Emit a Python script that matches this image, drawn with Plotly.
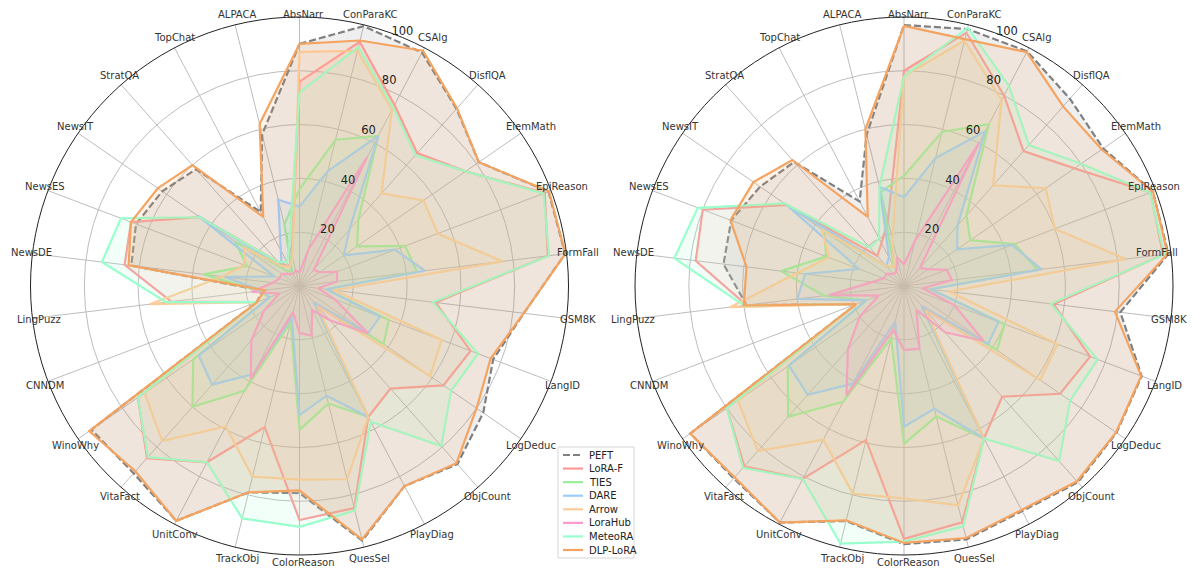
import math
import plotly.graph_objects as go

categories = ["AbsNarr", "ConParaKC", "CSAlg", "DisflQA", "ElemMath", "EpiReason", "FormFall",
              "GSM8K", "LangID", "LogDeduc", "ObjCount", "PlayDiag", "QuesSel", "ColorReason",
              "TrackObj", "UnitConv", "VitaFact", "WinoWhy", "CNNDM", "LingPuzz", "NewsDE",
              "NewsES", "NewsIT", "StratQA", "TopChat", "ALPACA"]
series_names = ["PEFT", "LoRA-F", "TIES", "DARE", "Arrow", "LoraHub", "MeteoRA", "DLP-LoRA"]
radial_ticks = [20, 40, 60, 80, 100]

# ---- left chart ----
peft_left = [90, 99.5, 98, 88, 81, 99, 99.5, 84, 77, 83, 88.5, 84, 97.5, 77, 79, 98.6, 93, 94, 17, 14, 63, 65, 62, 58, 31, 58]
lora_f_left = [76, 93.5, 76, 66, 75, 97.5, 93, 51, 68, 65, 51, 55, 85, 87, 54, 74, 85.5, 73, 17, 48, 65.5, 67, 45, 12, 8, 12]
ties_left = [36, 56, 63, 33, 26, 42, 44, 10, 35.5, 38, 8, 55, 45, 53.5, 14, 44, 60, 48, 12, 15, 36, 21, 29, 8, 6, 23.5]
dare_left = [29.5, 44, 63, 28, 20, 38, 47, 10, 32, 31, 8, 55, 42, 48, 12, 37, 49, 45.5, 12, 14, 28, 10, 46, 10, 15, 33]
arrow_left = [87, 90, 74, 46, 56, 55, 76, 13, 56.5, 59, 10, 55, 74, 72, 73, 59, 77, 70, 17, 56, 29, 22, 25, 10, 8, 11]
lorahub_left = [5, 14, 54, 8, 9, 15, 14, 7, 14, 31, 17, 10, 19, 17.5, 10, 39, 27, 16, 8, 18, 10, 8, 8, 6, 5, 6]
meteora_left = [72, 91.5, 75, 65, 75, 97, 93.5, 50, 71, 68.5, 79.5, 57, 86, 89.5, 89, 74, 85, 73, 17, 50, 74, 71, 45, 12, 10, 16]
dlp_left = [90, 94, 98.8, 88.3, 81, 99.2, 99.6, 84, 76, 80, 88, 84, 97, 76, 79, 98.6, 92, 95, 17, 13, 64, 67, 64, 60, 29, 62]

# ---- right chart ----
peft_right = [97, 98.4, 98.5, 93, 90, 99, 99, 81, 94.5, 96, 97.5, 94.5, 97, 96, 90, 99.3, 95.5, 96.5, 19, 59, 67.6, 68.7, 65, 61.6, 35.5, 58]
lora_f_right = [80, 97, 80, 67, 77, 98, 97, 56, 74, 70.5, 55, 64, 90.5, 94, 59, 81, 89.5, 80, 19, 59, 78, 80, 53, 15, 18, 25]
ties_right = [41, 59, 68, 35, 30, 44, 50, 10, 40, 42, 10, 64, 50, 58.7, 20, 48.6, 65, 52.5, 15, 30, 46, 31, 36, 10, 8, 36]
dare_right = [33, 49, 65, 30, 24, 43, 51.5, 10, 37.6, 38, 10, 64, 47, 52.3, 13.7, 41, 54, 52, 15, 40, 37, 18, 53, 10, 12, 38]
arrow_right = [78, 94, 78, 50, 64, 60, 83, 17, 61, 61.5, 12, 64, 84, 79, 79.5, 64.5, 82, 75, 19, 65, 40, 30, 37, 10, 8, 18]
lorahub_right = [8, 17.6, 60, 9, 11, 17, 18, 7, 20, 36, 23, 10, 24, 23.8, 16.8, 46, 31.5, 20, 10, 28, 12, 8, 8, 6, 6, 11]
meteora_right = [78, 98.9, 84, 70, 80, 97.8, 97.5, 55, 77, 75, 87, 64, 92, 95, 98.6, 81, 90.3, 80, 19, 60, 86, 82, 54, 19, 20, 38]
dlp_right = [96.7, 94.5, 98.2, 89.2, 89.3, 99, 98.7, 79, 94.3, 95.8, 97, 94, 96.5, 95.5, 89.7, 99.3, 95, 96.6, 19, 60, 59, 69, 68, 62.6, 29, 60]

left_values = [peft_left, lora_f_left, ties_left, dare_left, arrow_left, lorahub_left, meteora_left, dlp_left]
right_values = [peft_right, lora_f_right, ties_right, dare_right, arrow_right, lorahub_right, meteora_right, dlp_right]

colors = ["#808080", "#ff9999", "#99ee99", "#99ccff", "#ffcc99", "#ff99cc", "#99ffcc", "#f4a460"]
dashes = ["7px,3px", "solid", "solid", "solid", "solid", "solid", "solid", "solid"]


def rgba(hex_color, a):
    h = hex_color.lstrip("#")
    return "rgba(%d,%d,%d,%.3f)" % (int(h[0:2], 16), int(h[2:4], 16), int(h[4:6], 16), a)


n = len(categories)
angles = [i * 360.0 / n for i in range(n)]
angles_closed = angles + [angles[0]]

# figure geometry (figure pixels; the page shows the figure with an 8px offset)
W, H = 1198, 570
VIEW_W, VIEW_H = 1179, 562
R = 269
CY = 278
CENTERS = {"polar": 291.5, "polar2": 896.0}
LABEL_PX = 281           # radius (px) where category labels are centred
RLABEL_ANGLE = 22.5      # radial tick labels, degrees clockwise from top
LABEL_SIZE = 10
GRID = "#bdbdbd"
rlabel_pos = ["top right"] * (len(radial_ticks) - 1) + ["top center"]

fig = go.Figure()
for subplot, values in (("polar", left_values), ("polar2", right_values)):
    for name, vals, col, dsh in zip(series_names, values, colors, dashes):
        fig.add_trace(go.Scatterpolar(
            r=vals + [vals[0]], theta=angles_closed, subplot=subplot,
            mode="lines", fill="toself", fillcolor=rgba(col, 0.13),
            line=dict(color=col, width=2.2, dash=dsh),
            name=name, showlegend=False, hoverinfo="skip"))
    fig.add_trace(go.Scatterpolar(
        r=radial_ticks, theta=[RLABEL_ANGLE] * len(radial_ticks), subplot=subplot, mode="text",
        text=[str(t) for t in radial_ticks], textposition=rlabel_pos, cliponaxis=False,
        showlegend=False, hoverinfo="skip",
        textfont=dict(family="DejaVu Sans", size=11.5, color="#222")))

annotations = []
# category labels centred just outside the rim (like matplotlib theta tick labels)
for subplot, cx in CENTERS.items():
    for name, ang in zip(categories, angles):
        a = math.radians(90 - ang)
        px = cx + LABEL_PX * math.cos(a) + 4 - 4 * math.cos(a)
        py = CY - LABEL_PX * math.sin(a)
        hw = len(name) * LABEL_SIZE * 0.37
        hh = LABEL_SIZE * 0.65
        px = min(max(px, hw + 1), VIEW_W - hw)
        py = min(max(py, hh), VIEW_H - hh - 1)
        annotations.append(dict(x=px / W, y=1 - py / H, xref="paper", yref="paper", text=name,
                                showarrow=False, xanchor="center", yanchor="middle",
                                font=dict(family="DejaVu Sans", size=LABEL_SIZE, color="#333")))


def dom(cx):
    return dict(x=[(cx - R) / W, (cx + R) / W], y=[1 - (CY + R) / H, 1 - (CY - R) / H])


polar_common = dict(
    bgcolor="white",
    radialaxis=dict(range=[0, 100], tickvals=radial_ticks, showticklabels=False, showline=False,
                    ticks="", gridcolor=GRID, gridwidth=0.8),
    angularaxis=dict(rotation=90, direction="clockwise", thetaunit="degrees",
                     tickmode="array", tickvals=angles, showticklabels=False, ticks="",
                     showline=True, linecolor="#222", linewidth=1,
                     gridcolor=GRID, gridwidth=0.8),
)

# compact matplotlib-like legend built from the series lists
LX0, LY0, LX1, LY1 = 550, 439, 626, 550
shapes = [dict(type="rect", xref="paper", yref="paper", x0=LX0 / W, x1=LX1 / W,
               y0=1 - LY1 / H, y1=1 - LY0 / H, line=dict(color="#d6d6d6", width=1),
               fillcolor="rgba(255,255,255,0.85)", layer="above")]
row_step = (LY1 - LY0 - 16) / (len(series_names) - 1)
for k, (name, col, dsh) in enumerate(zip(series_names, colors, dashes)):
    yy = LY0 + 8 + row_step * k
    shapes.append(dict(type="line", xref="paper", yref="paper", x0=(LX0 + 5) / W, x1=(LX0 + 25) / W,
                       y0=1 - yy / H, y1=1 - yy / H, line=dict(color=col, width=2.2, dash=dsh),
                       layer="above"))
    annotations.append(dict(x=(LX0 + 29) / W, y=1 - yy / H, xref="paper", yref="paper", text=name,
                            showarrow=False, xanchor="left", yanchor="middle",
                            font=dict(family="DejaVu Sans", size=10, color="#222")))

fig.update_layout(
    width=W, height=H, margin=dict(l=0, r=0, t=0, b=0, autoexpand=False),
    paper_bgcolor="white", plot_bgcolor="white", showlegend=False,
    polar=dict(domain=dom(CENTERS["polar"]), **polar_common),
    polar2=dict(domain=dom(CENTERS["polar2"]), **polar_common),
    shapes=shapes, annotations=annotations,
    font=dict(family="DejaVu Sans"),
)

fig.write_html("out.html")
